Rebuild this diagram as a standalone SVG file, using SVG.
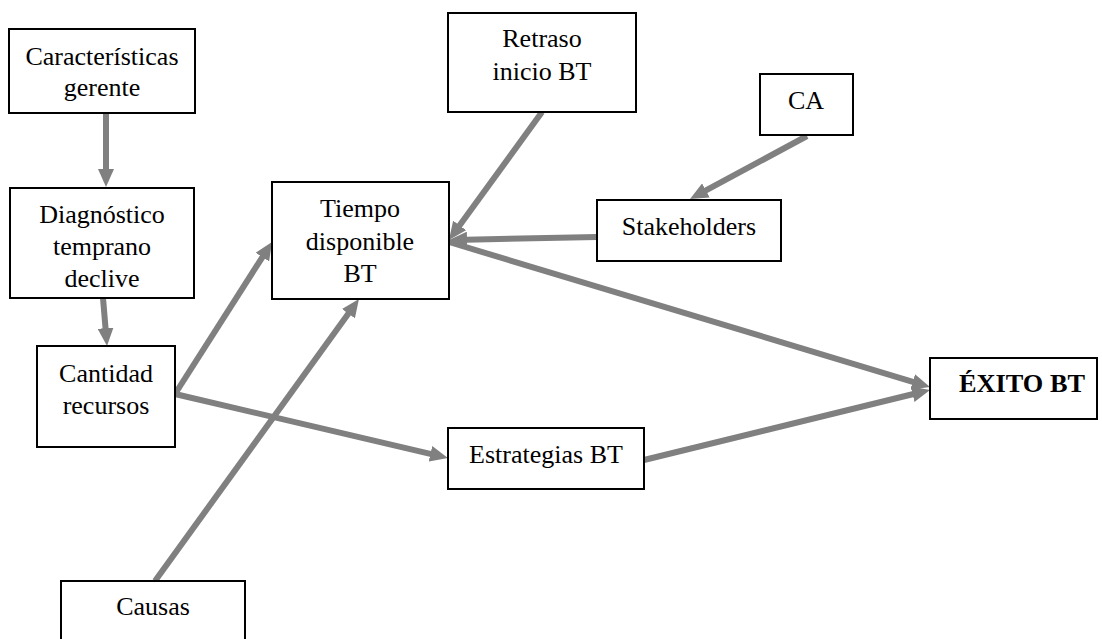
<svg xmlns="http://www.w3.org/2000/svg" width="1102" height="639" viewBox="0 0 1102 639">
  <style>
    .box { fill: #ffffff; stroke: #000000; stroke-width: 2; }
    .lbl { font-family: "Liberation Serif", "Times New Roman", serif; font-size: 26px; fill: #000000; text-anchor: middle; }
    .bold { font-weight: bold; }
    .link { fill: none; stroke: #808080; stroke-width: 6; stroke-linecap: butt; }
  </style>
  <defs>
    <marker id="head" viewBox="0 0 18 16" markerUnits="userSpaceOnUse" markerWidth="18" markerHeight="16" refX="1" refY="8" orient="auto">
      <path d="M0,0 L18,8 L0,16 Z" fill="#808080"/>
    </marker>
  </defs>
  <rect width="1102" height="639" fill="#ffffff"/>

  <!-- connectors -->
  <g id="connectors" marker-end="url(#head)">
    <line class="link" x1="106" y1="113" x2="106" y2="170"/>
    <line class="link" x1="103" y1="298" x2="105.6" y2="329.1"/>
    <line class="link" x1="175" y1="394" x2="262.9" y2="256.3"/>
    <line class="link" x1="175" y1="394" x2="431.4" y2="454.1"/>
    <line class="link" x1="155" y1="581" x2="349.0" y2="312.8"/>
    <line class="link" x1="542" y1="112" x2="459.0" y2="226.2"/>
    <line class="link" x1="597" y1="237" x2="466.0" y2="239.7"/>
    <line class="link" x1="807" y1="136" x2="705.0" y2="190.9"/>
    <line class="link" x1="449" y1="242" x2="913.7" y2="382.1"/>
    <line class="link" x1="644" y1="460" x2="913.5" y2="394.0"/>
  </g>

  <!-- nodes -->
  <g id="caracteristicas">
    <rect class="box" x="9" y="29" width="186" height="84"/>
    <text class="lbl" x="102" y="65">Características</text>
    <text class="lbl" x="102" y="96">gerente</text>
  </g>
  <g id="diagnostico">
    <rect class="box" x="10" y="188" width="184" height="110"/>
    <text class="lbl" x="102" y="223">Diagnóstico</text>
    <text class="lbl" x="102" y="255">temprano</text>
    <text class="lbl" x="102" y="287">declive</text>
  </g>
  <g id="cantidad">
    <rect class="box" x="37" y="346" width="138" height="101"/>
    <text class="lbl" x="106" y="382">Cantidad</text>
    <text class="lbl" x="106" y="414">recursos</text>
  </g>
  <g id="causas">
    <rect class="box" x="61" y="581" width="184" height="70"/>
    <text class="lbl" x="153" y="615">Causas</text>
  </g>
  <g id="tiempo">
    <rect class="box" x="272" y="182" width="177" height="117"/>
    <text class="lbl" x="360" y="217">Tiempo</text>
    <text class="lbl" x="360" y="250">disponible</text>
    <text class="lbl" x="360" y="282">BT</text>
  </g>
  <g id="retraso">
    <rect class="box" x="448" y="13" width="188" height="99"/>
    <text class="lbl" x="542" y="47">Retraso</text>
    <text class="lbl" x="542" y="80">inicio BT</text>
  </g>
  <g id="ca">
    <rect class="box" x="760" y="74" width="93" height="61"/>
    <text class="lbl" x="806" y="109">CA</text>
  </g>
  <g id="stakeholders">
    <rect class="box" x="597" y="200" width="184" height="61"/>
    <text class="lbl" x="689" y="235">Stakeholders</text>
  </g>
  <g id="estrategias">
    <rect class="box" x="448" y="428" width="196" height="61"/>
    <text class="lbl" x="546" y="463">Estrategias BT</text>
  </g>
  <g id="exito">
    <rect class="box" x="930" y="358" width="167" height="61"/>
    <text class="lbl bold" x="1022" y="392" textLength="126" lengthAdjust="spacingAndGlyphs">ÉXITO BT</text>
  </g>
</svg>
